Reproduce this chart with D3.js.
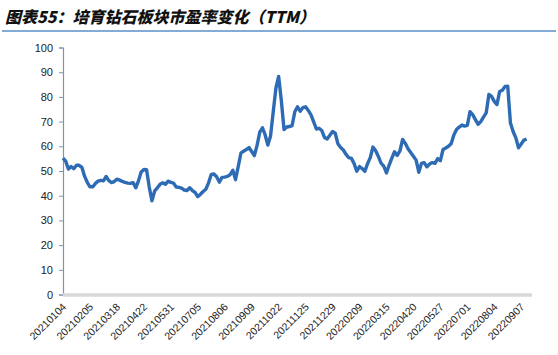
<!DOCTYPE html>
<html><head><meta charset="utf-8">
<script src="https://cdn.jsdelivr.net/npm/d3@7"></script>
<style>
html,body{margin:0;padding:0;background:#fff;}
svg{display:block;}
</style></head>
<body>
<svg id="chart" width="558" height="355"></svg>
<script>
const title = "图表55：培育钻石板块市盈率变化（TTM）";
const yTicks = [0,10,20,30,40,50,60,70,80,90,100];
const dateLabels = ["20210104","20210205","20210318","20210422","20210531","20210705","20210806","20210909","20211022","20211125","20211229","20220209","20220315","20220420","20220527","20220701","20220804","20220907"];
const labelEvery = 10;
const peValues = [
55.2,54.0,50.8,51.8,50.9,52.3,52.3,51.5,47.9,45.4,
43.6,43.6,44.9,45.9,46.2,46.0,47.8,46.1,45.3,45.7,
46.7,46.3,45.8,45.4,45.1,45.0,45.3,43.2,46.0,49.6,
50.6,50.5,43.5,37.9,41.9,43.2,44.6,45.2,44.6,45.9,
45.4,45.1,43.5,43.4,43.1,42.3,42.1,43.2,42.1,41.3,
39.6,40.6,41.7,42.6,45.2,48.6,48.8,47.7,45.5,47.4,
47.5,47.8,48.5,50.3,46.5,51.8,57.2,58.0,58.7,59.5,
57.9,56.2,60.4,65.7,67.5,64.6,60.5,64.2,74.0,83.6,
88.3,78.5,66.8,67.8,68.0,68.4,74.0,76.0,74.2,75.7,
76.0,74.5,72.7,69.9,67.0,67.3,66.4,63.6,63.0,64.5,
66.0,65.3,61.0,59.5,58.5,56.7,55.4,55.1,53.0,49.9,
51.8,51.0,49.9,53.0,55.4,59.7,58.2,55.9,53.2,52.0,
49.2,52.4,55.2,57.8,56.3,58.1,62.8,61.2,59.0,57.5,
56.0,54.4,49.5,53.1,53.4,51.7,52.8,53.4,53.1,55.0,
54.2,58.7,59.3,60.0,61.0,64.6,66.8,67.8,68.6,68.2,
68.5,74.0,72.8,70.8,68.9,70.0,71.8,73.5,81.0,80.2,
78.2,76.9,82.2,82.7,84.2,84.3,69.4,66.0,63.4,59.4,
60.9,62.5,62.9
];

const svg = d3.select("#chart");
const mLeft = 63, mRight = 532, mTop = 47.5, mBottom = 294.5;

const x = d3.scaleLinear().domain([0, 174]).range([mLeft, mRight]);
const y = d3.scaleLinear().domain([0, 100]).range([mBottom, mTop]);

// Title
svg.append("text")
  .attr("x", 5).attr("y", 23)
  .attr("font-family", "'Noto Sans CJK SC', sans-serif")
  .attr("font-size", 16).attr("font-weight", 900)
  .attr("font-style", "italic")
  .attr("fill", "#111")
  .text(title);
svg.append("line")
  .attr("x1", 2).attr("x2", 556).attr("y1", 31).attr("y2", 31)
  .attr("stroke", "#5b8fc9").attr("stroke-width", 1.5);

// Y axis
const yAxis = d3.axisLeft(y).tickValues(yTicks).tickSize(4).tickPadding(6);
const gy = svg.append("g").attr("transform", `translate(${mLeft},0)`).call(yAxis);
gy.select(".domain").attr("stroke", "#7f93ad").attr("stroke-width", 1.2);
gy.selectAll(".tick line").attr("stroke", "#7f93ad");
gy.selectAll("text").attr("font-family", "Arial, 'Liberation Sans', sans-serif")
  .attr("font-size", 11).attr("fill", "#222");

// X axis band
svg.append("line")
  .attr("x1", mLeft).attr("x2", mRight)
  .attr("y1", y(0) + 0.5).attr("y2", y(0) + 0.5)
  .attr("stroke", "#d9d9d9").attr("stroke-width", 3.5);

// X labels
const labelIdx = dateLabels.map((d, i) => i * labelEvery);
svg.append("g").selectAll("text")
  .data(dateLabels)
  .join("text")
  .attr("transform", (d, i) => `translate(${x(labelIdx[i]) + 4},${y(0) + 13}) rotate(-45)`)
  .attr("text-anchor", "end")
  .attr("font-family", "Arial, 'Liberation Sans', sans-serif")
  .attr("font-size", 10.5)
  .attr("fill", "#222")
  .text(d => d);

// Line
const line = d3.line()
  .x((d, i) => x(i))
  .y(d => y(d));
svg.append("path")
  .datum(peValues)
  .attr("d", line)
  .attr("fill", "none")
  .attr("stroke", "#2e6bb5")
  .attr("stroke-width", 3.4)
  .attr("stroke-linejoin", "round");
</script>
</body></html>
